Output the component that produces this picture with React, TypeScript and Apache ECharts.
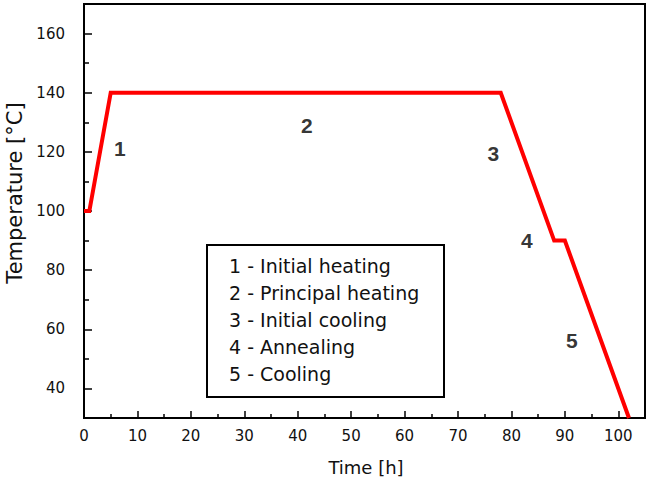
import React, { useEffect, useRef } from "react";
import * as echarts from "echarts";

// Temperature profile (time in h, temperature in °C)
const timeH = [0, 1, 5, 78, 88, 90, 102];
const tempC = [100, 100, 140, 140, 90, 90, 30];

// Phase number labels placed on the chart
const phaseNums = ["1", "2", "3", "4", "5"];
const phaseX = [6.7, 41.7, 76.6, 82.9, 91.3];
const phaseY = [121.3, 129, 119.5, 90, 56.3];

// Legend box entries
const phaseNames = [
  "Initial heating",
  "Principal heating",
  "Initial cooling",
  "Annealing",
  "Cooling",
];

const xMajor = [0, 10, 20, 30, 40, 50, 60, 70, 80, 90, 100];
const xMinor = [5, 15, 25, 35, 45, 55, 65, 75, 85, 95];
const yMajor = [40, 60, 80, 100, 120, 140, 160];
const yMinor = [50, 70, 90, 110, 130, 150];

const FONT = "DejaVu Sans";

export default function App() {
  const ref = useRef<HTMLDivElement>(null);
  useEffect(() => {
    if (!ref.current) return;
    const chart = echarts.init(ref.current, null, { renderer: "svg" });
    const axisLine = { show: true, lineStyle: { color: "#000", width: 2 } };
    const legendTexts = phaseNames.map((n, i) => ({
      type: "text",
      left: 229,
      top: 256 + i * 27,
      style: {
        text: `${i + 1} - ${n}`,
        fontFamily: FONT,
        fontSize: 19,
        fill: "#111",
      },
    }));
    chart.setOption({
      animation: false,
      backgroundColor: "#fff",
      grid: {
        left: 84,
        right: 5,
        top: 4,
        bottom: 64,
        show: true,
        borderColor: "#000",
        borderWidth: 2,
        backgroundColor: "transparent",
      },
      xAxis: [
        {
          type: "value",
          min: 0,
          max: 105,
          axisLine,
          splitLine: { show: false },
          axisTick: {
            show: true,
            inside: true,
            length: 7,
            customValues: xMajor,
            lineStyle: { color: "#000", width: 1.5 },
          },
          axisLabel: {
            customValues: xMajor,
            margin: 10,
            fontFamily: FONT,
            fontSize: 15,
            color: "#111",
          },
        },
        {
          type: "value",
          min: 0,
          max: 105,
          position: "bottom",
          axisLine: { show: false },
          splitLine: { show: false },
          axisLabel: { show: false },
          axisTick: {
            show: true,
            inside: true,
            length: 4,
            customValues: xMinor,
            lineStyle: { color: "#000", width: 1.5 },
          },
        },
      ],
      yAxis: [
        {
          type: "value",
          min: 30,
          max: 170,
          axisLine,
          splitLine: { show: false },
          axisTick: {
            show: true,
            inside: true,
            length: 8,
            customValues: yMajor,
            lineStyle: { color: "#000", width: 1.5 },
          },
          axisLabel: {
            customValues: yMajor,
            margin: 19,
            fontFamily: FONT,
            fontSize: 15,
            color: "#111",
          },
        },
        {
          type: "value",
          min: 30,
          max: 170,
          position: "left",
          axisLine: { show: false },
          splitLine: { show: false },
          axisLabel: { show: false },
          axisTick: {
            show: true,
            inside: true,
            length: 5,
            customValues: yMinor,
            lineStyle: { color: "#000", width: 1.5 },
          },
        },
      ],
      series: [
        {
          type: "line",
          data: timeH.map((t, i) => [t, tempC[i]]),
          showSymbol: false,
          symbol: "none",
          clip: true,
          lineStyle: { color: "#ff0000", width: 4, join: "miter" },
        },
        {
          type: "scatter",
          symbolSize: 0,
          itemStyle: { color: "#000" },
          data: phaseNums.map((n, i) => ({ name: n, value: [phaseX[i], phaseY[i]] })),
          label: {
            show: true,
            position: [0, 0],
            align: "center",
            verticalAlign: "middle",
            formatter: "{b}",
            fontFamily: "Liberation Sans",
            fontWeight: "bold",
            fontSize: 21,
            color: "#000",
          },
        },
      ],
      graphic: [
        {
          type: "rect",
          shape: { x: 207, y: 245, width: 237, height: 152 },
          style: { fill: "#fff", stroke: "#000", lineWidth: 2 },
          z: 10,
        },
        ...legendTexts.map((t) => ({ ...t, z: 11 })),
        {
          type: "text",
          x: 366,
          y: 467,
          style: {
            text: "Time [h]",
            fontFamily: FONT,
            fontSize: 18,
            fill: "#111",
            align: "center",
            verticalAlign: "middle",
          },
        },
        {
          type: "text",
          x: 15,
          y: 193,
          rotation: Math.PI / 2,
          style: {
            text: "Temperature [°C]",
            fontFamily: FONT,
            fontSize: 21,
            fill: "#111",
            align: "center",
            verticalAlign: "middle",
          },
        },
      ],
    });
    return () => chart.dispose();
  }, []);
  return <div ref={ref} style={{ width: 650, height: 482, position: "absolute", left: 0, top: 0 }} />;
}
